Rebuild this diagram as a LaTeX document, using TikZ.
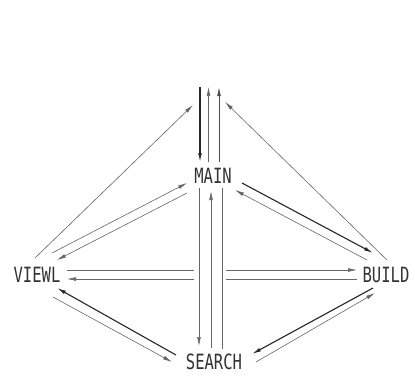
\documentclass[tikz,border=0pt]{standalone}
\usepackage{fontspec}
\usetikzlibrary{arrows.meta}
\newfontfamily\lblfont[FakeStretch=0.74]{DejaVu Sans Mono}
\begin{document}
\begin{tikzpicture}[x=1pt,y=-1pt,
  lbl/.style={inner sep=0pt,font=\lblfont\fontsize{21}{21}\selectfont,text=black!80},
  ar/.style={-{Latex[length=9pt,width=3.8pt]}},
  thk/.style={ar,line width=1.1pt,draw=black!85},
  mdl/.style={ar,line width=0.8pt,draw=black!70},
  thn/.style={ar,line width=0.6pt,draw=black!60},
  pln/.style={line width=0.6pt,draw=black!60}]
\useasboundingbox (0,0) rectangle (415,376);
\fill[white] (0,0) rectangle (415,376);
% nodes
\node[lbl] (MAIN) at (213,175.5) {MAIN};
\node[lbl] (VIEWL) at (37,274.5) {VIEWL};
\node[lbl] (BUILD) at (386,275) {BUILD};
\node[lbl] (SEARCH) at (214,362) {SEARCH};
% endpoints
\coordinate (t1a) at (200,87);   \coordinate (t1b) at (200,162);
\coordinate (t2a) at (208.5,162); \coordinate (t2b) at (208.5,87);
\coordinate (t3a) at (219,162);  \coordinate (t3b) at (219,87);
\coordinate (dla) at (35,258);   \coordinate (dlb) at (193,105);
\coordinate (dra) at (387,260);  \coordinate (drb) at (225,102);
\coordinate (vm1a) at (52,253);  \coordinate (vm1b) at (187,183);
\coordinate (vm2a) at (187,193); \coordinate (vm2b) at (57,260);
\coordinate (mb1a) at (242,183); \coordinate (mb1b) at (373,253);
\coordinate (mb2a) at (367,260); \coordinate (mb2b) at (235,190);
\coordinate (h1a) at (67,270);   \coordinate (h1b) at (357,270);
\coordinate (h2a) at (357,279);  \coordinate (h2b) at (67,279);
\coordinate (v1a) at (199,188);  \coordinate (v1b) at (199,346);
\coordinate (v2a) at (211,348);  \coordinate (v2b) at (211,191);
\coordinate (v3a) at (222,188);  \coordinate (v3b) at (222,349);
\coordinate (vs1a) at (176,355); \coordinate (vs1b) at (57,288);
\coordinate (vs2a) at (53,297);  \coordinate (vs2b) at (172,362);
\coordinate (sb1a) at (373,288); \coordinate (sb1b) at (252,354);
\coordinate (sb2a) at (256,362); \coordinate (sb2b) at (375,293);
% top arrows
\draw[thk] (t1a) -- (t1b);
\draw[thn] (t2a) -- (t2b);
\draw[mdl] (t3a) -- (t3b);
\draw[thn] (dla) -- (dlb);
\draw[thn] (dra) -- (drb);
% VIEWL - MAIN
\draw[thn] (vm1a) -- (vm1b);
\draw[thn] (vm2a) -- (vm2b);
% MAIN - BUILD
\draw[thk] (mb1a) -- (mb1b);
\draw[thn] (mb2a) -- (mb2b);
% horizontals
\draw[thn] (h1a) -- (h1b);
\draw[thn] (h2a) -- (h2b);
\fill[white] (194,265) rectangle (226,284);
% verticals MAIN - SEARCH
\draw[thn] (v1a) -- (v1b);
\draw[thn] (v2a) -- (v2b);
\draw[pln] (v3a) -- (v3b);
% VIEWL - SEARCH
\draw[thk] (vs1a) -- (vs1b);
\draw[thn] (vs2a) -- (vs2b);
% SEARCH - BUILD
\draw[thk] (sb1a) -- (sb1b);
\draw[thn] (sb2a) -- (sb2b);
\end{tikzpicture}
\end{document}
